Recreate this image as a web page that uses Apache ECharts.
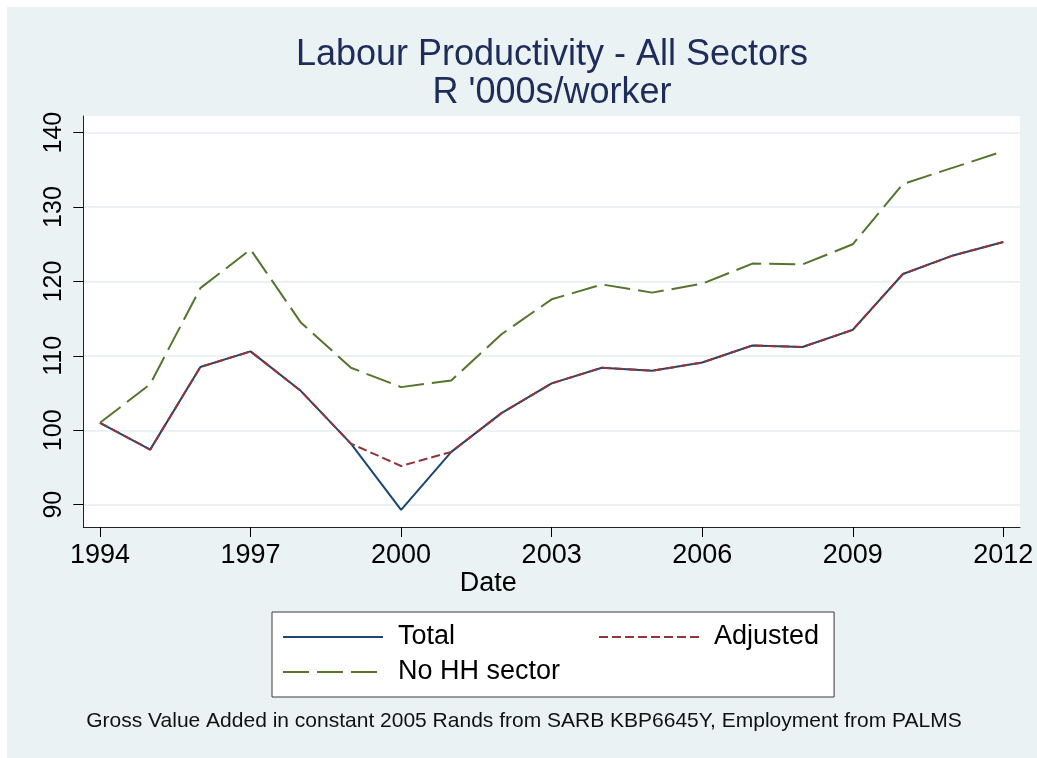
<!DOCTYPE html>
<html>
<head>
<meta charset="utf-8">
<script src="https://cdn.jsdelivr.net/npm/echarts@6/dist/echarts.min.js"></script>
<style>
  html, body { margin: 0; padding: 0; background: #ffffff; width: 1037px; height: 758px; overflow: hidden; }
  #chart { position: absolute; left: 7px; top: 7px; width: 1030px; height: 751px; }
</style>
</head>
<body>
<div id="chart"></div>
<script>
// ---- Data ----
const years = ['1994','1995','1996','1997','1998','1999','2000','2001','2002','2003',
               '2004','2005','2006','2007','2008','2009','2010','2011','2012'];
const total = [101.0, 97.4, 108.5, 110.6, 105.3, 98.2, 89.3, 97.1, 102.3, 106.3,
               108.4, 108.0, 109.1, 111.4, 111.2, 113.5, 121.0, 123.5, 125.3];
const adjusted = [101.0, 97.4, 108.5, 110.6, 105.3, 98.2, 95.2, 97.1, 102.3, 106.3,
                  108.4, 108.0, 109.1, 111.4, 111.2, 113.5, 121.0, 123.5, 125.3];
const noHH = [101.0, 106.2, 119.1, 124.3, 114.5, 108.4, 105.8, 106.7, 112.9, 117.6,
              119.6, 118.5, 119.7, 122.4, 122.3, 125.0, 133.1, 135.3, 137.5];
const seriesNames = ['Total', 'Adjusted', 'No HH sector'];
const titleText = "Labour Productivity - All Sectors\nR '000s/worker";
const footnoteText = 'Gross Value Added in constant 2005 Rands from SARB KBP6645Y, Employment from PALMS';
const xAxisTitle = 'Date';

// ---- Style ----
const FONT = '"Liberation Sans", Arial, Helvetica, sans-serif';
const BG = '#EAF2F3';
const C_TOTAL = '#1A476F';
const C_ADJ = '#90353B';
const C_NOHH = '#55752F';

const chart = echarts.init(document.getElementById('chart'), null, { renderer: 'canvas' });

const option = {
  backgroundColor: BG,
  animation: false,
  title: [
    {
      text: titleText,
      left: 545, top: 29, textAlign: 'center', padding: 0,
      textStyle: { fontFamily: FONT, fontSize: 36, fontWeight: 'normal', color: '#1E2C5A', lineHeight: 38 }
    },
    {
      text: footnoteText,
      left: 517, top: 702, textAlign: 'center', padding: 0,
      textStyle: { fontFamily: FONT, fontSize: 21, fontWeight: 'normal', color: '#111111', lineHeight: 24 }
    }
  ],
  legend: {
    selectedMode: false,
    left: 265, top: 605,
    width: 540,
    padding: [11.5, 15, 11.5, 10],
    itemGap: 8,
    itemWidth: 100,
    itemHeight: 14,
    backgroundColor: '#ffffff',
    borderColor: '#3a3a3a',
    borderWidth: 1,
    borderRadius: 0,
    itemStyle: { color: 'rgba(0,0,0,0)', borderWidth: 0, opacity: 0 },
    textStyle: { fontFamily: FONT, fontSize: 27, color: '#000000', lineHeight: 27, padding: [0, 0, 0, 10] },
    data: [
      { name: seriesNames[0], textStyle: { width: 192 } },
      { name: seriesNames[1] },
      { name: seriesNames[2] }
    ]
  },
  grid: [
    // data grid
    { left: 93, right: 33.7, top: 125.67, bottom: 253.33 },
    // gridline grid (full plot width)
    { left: 76.3, right: 17, top: 125.67, bottom: 253.33 },
    // white plot region + frame axes
    { left: 76.3, right: 17, top: 109, bottom: 231, show: true, backgroundColor: '#ffffff', borderWidth: 0, z: -1 }
  ],
  xAxis: [
    {
      gridIndex: 0, type: 'category', data: years, boundaryGap: false,
      offset: 22.3,
      axisLine: { show: false },
      axisTick: { show: true, length: 10, interval: 2, lineStyle: { color: '#000000', width: 1 } },
      axisLabel: { interval: 2, margin: 15, fontFamily: FONT, fontSize: 27, color: '#000000' },
      splitLine: { show: false },
      name: xAxisTitle, nameLocation: 'middle', nameGap: 41.5,
      nameTextStyle: { fontFamily: FONT, fontSize: 27, color: '#000000', padding: [0, 127, 0, 0] }
    },
    { gridIndex: 1, type: 'value', min: 0, max: 1, show: false },
    {
      gridIndex: 2, type: 'value', min: 0, max: 1,
      axisLine: { show: true, lineStyle: { color: '#222222', width: 1 } },
      axisTick: { show: false }, axisLabel: { show: false }, splitLine: { show: false }
    }
  ],
  yAxis: [
    {
      gridIndex: 0, type: 'value', min: 90, max: 140, interval: 10,
      offset: 16.7,
      axisLine: { show: false },
      axisTick: { show: true, length: 10, lineStyle: { color: '#000000', width: 1 } },
      axisLabel: { rotate: 90, margin: 17, fontFamily: FONT, fontSize: 25, color: '#000000' },
      splitLine: { show: false }
    },
    {
      gridIndex: 1, type: 'value', min: 90, max: 140, interval: 10,
      axisLine: { show: false }, axisTick: { show: false }, axisLabel: { show: false },
      splitLine: { show: true, lineStyle: { color: BG, width: 2 } }
    },
    {
      gridIndex: 2, type: 'value', min: 0, max: 1,
      axisLine: { show: true, lineStyle: { color: '#222222', width: 1 } },
      axisTick: { show: false }, axisLabel: { show: false }, splitLine: { show: false }
    }
  ],
  series: [
    {
      name: seriesNames[0], type: 'line', xAxisIndex: 0, yAxisIndex: 0, data: total,
      symbol: 'none', clip: false, z: 3,
      lineStyle: { color: C_TOTAL, width: 2, type: 'solid' },
      itemStyle: { color: C_TOTAL }
    },
    {
      name: seriesNames[1], type: 'line', xAxisIndex: 0, yAxisIndex: 0, data: adjusted,
      symbol: 'none', clip: false, z: 4,
      lineStyle: { color: C_ADJ, width: 2, type: [9, 4] },
      itemStyle: { color: C_ADJ }
    },
    {
      name: seriesNames[2], type: 'line', xAxisIndex: 0, yAxisIndex: 0, data: noHH,
      symbol: 'none', clip: false, z: 5,
      lineStyle: { color: C_NOHH, width: 2, type: [26, 8] },
      itemStyle: { color: C_NOHH }
    }
  ]
};

chart.setOption(option);
</script>
</body>
</html>
